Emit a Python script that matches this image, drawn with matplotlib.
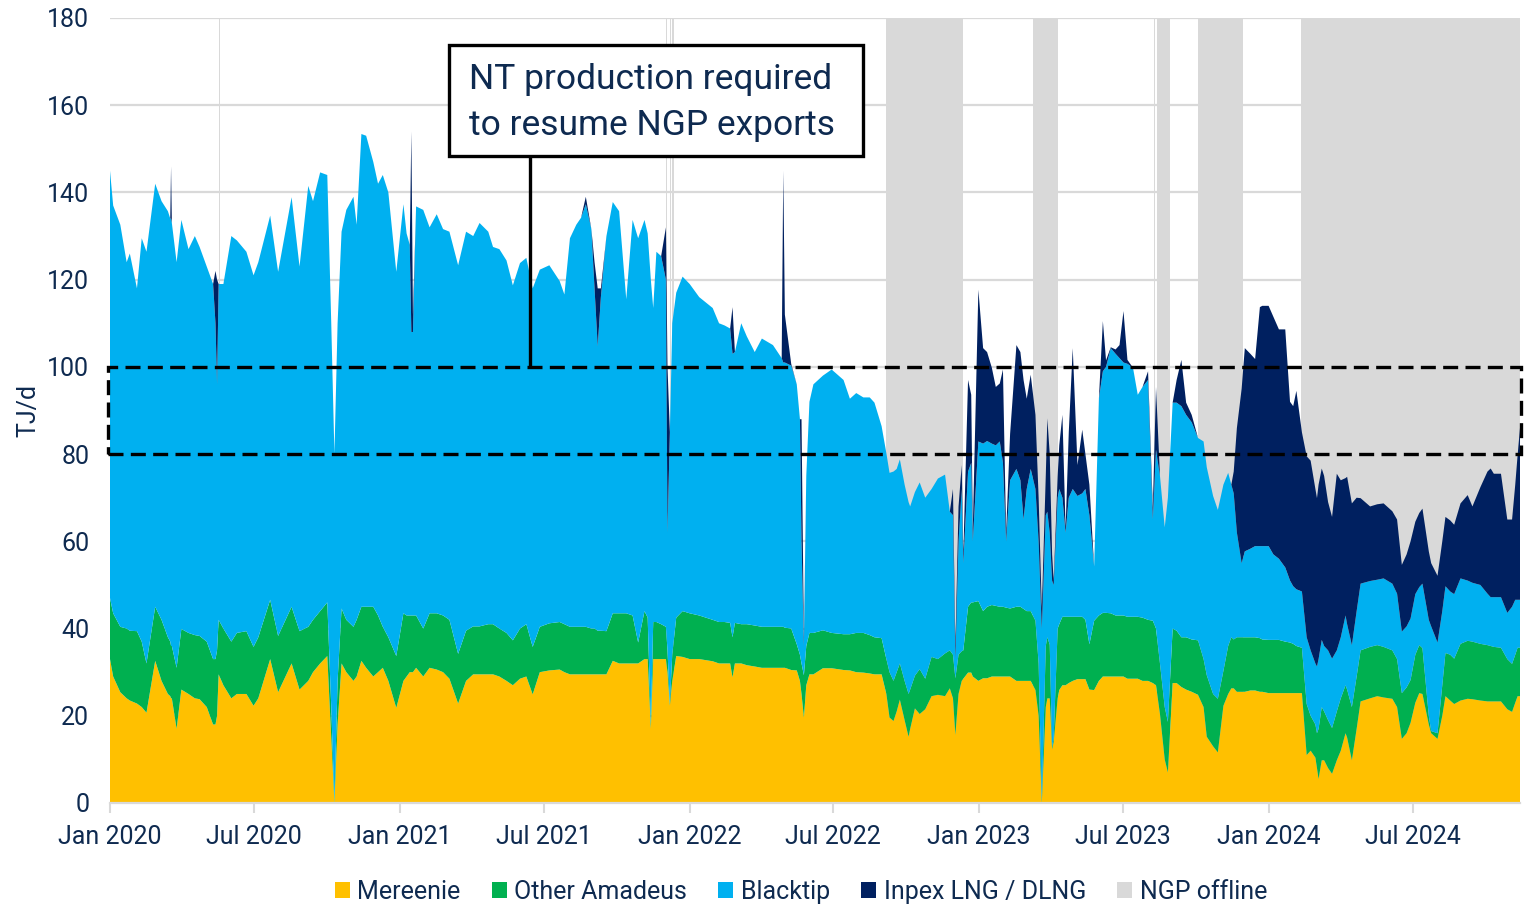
import matplotlib
matplotlib.use("Agg")
import matplotlib.pyplot as plt
import matplotlib.dates as mdates
from matplotlib.patches import Patch, Rectangle
import pandas as pd

# ---------------- data (TJ/d) ----------------
days_since_2020 = [
    0, 4, 13, 21, 25, 34, 40, 46, 57, 65, 73, 76, 77, 78, 84, 90, 99, 107, 113, 122,
    130, 133, 135, 137, 143, 153, 160, 172, 181, 187, 202, 212, 229, 239, 250, 256, 265, 274, 279, 283,
    287, 292, 298, 307, 311, 317, 323, 332, 338, 344, 351, 361, 370, 374, 378, 380, 382, 386,
    395, 403, 412, 420, 428, 439, 449, 458, 466, 477, 483, 491, 500, 508, 517, 525, 533, 542, 554, 567,
    573, 580, 588, 594, 600, 607, 611, 615, 619, 626, 634, 642, 651, 659, 666, 674, 678, 682, 685, 689,
    695, 701, 703, 706, 709, 714, 722, 731, 743, 760, 768,
    775, 782, 785, 788, 796, 803, 813, 822, 836, 847, 849, 851, 859, 866, 870, 872, 875, 878, 882, 887,
    899, 910, 925, 933, 941, 950, 958, 964, 973, 979, 983, 988, 992, 996, 1002, 1007, 1009, 1015, 1021, 1028,
    1036, 1044, 1053, 1059, 1063, 1066, 1070, 1074, 1076, 1082, 1086, 1088, 1095, 1101, 1106, 1112, 1117, 1122,
    1126, 1130, 1135, 1143,
    1148, 1152, 1156, 1161, 1167, 1171, 1175, 1180, 1182, 1185, 1188, 1190, 1195, 1197, 1201, 1205, 1209, 1214,
    1220, 1226, 1230, 1235, 1241, 1247, 1252, 1256, 1262, 1268, 1273, 1278, 1283, 1290, 1296, 1302, 1309, 1315,
    1319, 1324, 1330, 1334, 1340, 1345, 1351, 1357, 1364, 1372, 1379, 1383, 1391, 1397, 1404, 1410, 1414, 1417,
    1421, 1427,
    1431, 1438, 1444, 1450, 1453, 1461, 1467, 1474, 1482, 1488, 1492, 1496, 1503, 1509, 1514, 1520, 1522, 1524,
    1528, 1531, 1536, 1541, 1547, 1552, 1558, 1560, 1566, 1572, 1577, 1589, 1598, 1606, 1617, 1623, 1629, 1635,
    1640, 1646, 1651, 1655, 1663, 1666, 1674, 1680, 1684, 1690, 1695, 1703, 1712, 1718, 1728, 1737, 1741, 1745,
    1754, 1762, 1768, 1772, 1775, 1778,
]

mereenie = [
    33, 29, 25.4, 24, 23.5, 22.8, 22, 20.7, 32.6, 28, 25, 24.5, 24, 24, 17, 26, 25, 24, 23.8, 22,
    18, 18, 20, 29.5, 27, 24, 25, 25, 22.3, 24, 33, 25.4, 32, 26, 28, 30, 32, 33.7, 15, 0,
    18, 32, 30, 28, 29, 32.6, 31, 29, 30, 31, 28, 21.8, 28, 29, 30, 30, 30, 31,
    29, 31, 30.6, 30, 28.5, 22.8, 28, 29.5, 29.5, 29.5, 29.5, 29, 28, 27, 28.5, 29, 24.9, 30, 30.4, 30.6,
    30, 29.5, 29.5, 29.5, 29.5, 29.5, 29.5, 29.5, 29.5, 29.5, 32.6, 32, 32, 32, 32, 33, 33, 17, 33, 33,
    33, 33, 30, 22.3, 28, 33.7, 33.5, 33, 33, 32.5, 32,
    32, 32, 28.8, 32, 32, 31.6, 31.3, 31, 31, 31, 31, 31, 30.5, 30.4, 28, 25, 19.6, 27, 29.5, 29.5,
    30.9, 30.9, 30.5, 30.4, 30, 29.9, 29.7, 29.5, 29.5, 25, 19.6, 18.8, 21, 23.7, 19, 15.2, 17, 21.7, 20.4, 21.5,
    24.5, 24.8, 24.5, 26.3, 24, 15.6, 25, 28, 28.5, 29.9, 29.9, 29, 28, 28.6, 28.6, 29, 29, 29,
    29, 29, 29, 28,
    28, 28, 28, 28, 25.9, 20, 0, 22, 24, 24, 12.3, 14, 24, 25.9, 27, 27, 27.5, 28,
    28.4, 28.4, 28.4, 26, 25.9, 28, 29, 29, 29, 29, 29, 29, 28.5, 28.5, 28.5, 28, 28, 27.5,
    27, 20.4, 10, 7, 27.5, 27.5, 26.6, 26, 25.5, 24.8, 22, 15.2, 13, 11.6, 22.3, 25, 26.3, 26.3,
    25.5, 25.5,
    25.5, 25.8, 25.8, 25.5, 25.5, 25.2, 25.2, 25.2, 25.2, 25.2, 25.2, 25.2, 25.2, 11, 12, 10.4, 8, 5.5,
    9.8, 9.8, 8, 6.7, 9.8, 12, 16, 15, 9.8, 17, 23.3, 24, 24.5, 24.2, 23.9, 22, 14.7, 16,
    18.4, 23, 25.2, 25, 18, 16, 14.7, 20, 24.5, 23.5, 22.7, 23.5, 23.9, 23.8, 23.5, 23.3, 23.3, 23.3,
    23.3, 21.5, 20.9, 23, 24.5, 24.5,
]

other_amadeus = [
    14, 14.5, 15, 16, 16, 16.6, 15, 11.3, 12.4, 14, 13, 12.5, 12, 12, 14, 13.9, 14, 14.5, 14.5, 15,
    15, 15, 15, 12.5, 13, 13, 14, 14.4, 13.5, 14, 13.6, 12.9, 13, 13.4, 12.4, 12, 12, 12.3, 7, 0.5,
    10, 12.6, 12, 12.4, 13, 12.4, 14, 16, 13, 9.4, 10, 11.9, 15.5, 14, 13, 13, 13, 12,
    11, 12.5, 12.9, 13, 13.5, 11.4, 11.5, 11, 11, 11.5, 11.5, 11, 11, 10.3, 11.5, 12, 10.9, 10.4, 10.8, 10.9,
    11, 10.9, 10.9, 10.9, 10.9, 10.5, 10.5, 10, 10, 9.9, 10.9, 11.5, 11.5, 11, 4.8, 11, 9.5, 1, 8.5, 8.5,
    8, 7.4, 5, 0.5, 6, 8.8, 10.5, 10.5, 10, 9.5, 9.5,
    9.5, 9.3, 9.2, 9.3, 9, 9.4, 9.4, 9.4, 9.4, 9.4, 9.4, 9.2, 9.5, 6, 6, 7, 9.7, 9, 9.5, 9.5,
    8.7, 8.1, 8.2, 8.3, 9, 9.1, 8.8, 8.5, 8.3, 8, 10.4, 9.2, 9, 8.3, 9, 9.8, 9, 7.5, 10.3, 7,
    9, 8.2, 9.8, 8.7, 10, 13, 9, 6.8, 6.5, 15.1, 16.1, 17, 18.3, 15.4, 16.4, 16.4, 16.2, 16,
    16, 15.8, 15.6, 17,
    17, 16.5, 16, 16, 15.9, 12, 0.5, 14, 14, 12.3, 0.5, 1, 16, 15.1, 15.7, 15.7, 15.2, 14.7,
    14.3, 14.3, 13.6, 10.4, 15.9, 15, 14.6, 14.6, 14.5, 14, 14, 14, 14.2, 14.2, 14.2, 14.5, 14, 14.3,
    13, 11.6, 12, 11.6, 12.5, 12, 11.4, 12, 12, 12.5, 11, 14.1, 12, 12.3, 8, 11, 11.7, 11.2,
    12.5, 12.5,
    12.5, 12.2, 12.2, 12.3, 12, 12.2, 12.2, 12.2, 11.8, 11.6, 11.3, 10.8, 10.4, 11.7, 8, 7.6, 8, 11.5,
    12.2, 11.2, 11, 10.5, 11.2, 12, 11, 11, 12.2, 12, 11.7, 11.8, 11.7, 11.6, 11.1, 11, 10.5, 10.5,
    9.8, 11, 11, 10.5, 2, 0.5, 1.3, 7, 9.9, 10.5, 10.4, 13, 13.3, 13.2, 13, 12.9, 12.7, 12.5,
    12.3, 11.5, 11, 11, 11.1, 11.1,
]

blacktip = [
    98, 93.5, 92.2, 84, 86.5, 78.6, 92.5, 94.4, 97, 96, 97.7, 97, 98, 97, 93, 93.8, 88, 91.5, 89.2, 86,
    86, 77, 61, 77, 79, 93, 90, 87, 85.2, 86, 88.1, 83.5, 93.9, 83.6, 101.1, 96, 100.6, 98, 88, 79.5,
    82, 86.4, 94, 98.6, 90.6, 108.4, 108, 102, 99, 103.6, 102, 88.1, 93.8, 87.6, 85, 65, 65, 93.8,
    96, 88.5, 91.5, 88.6, 89, 89.1, 91.5, 89.5, 92.5, 90, 86.5, 87, 85.4, 81.4, 83.8, 84, 82.2, 81.9, 82.1, 78.2,
    75.6, 89.1, 92.2, 93.8, 96.9, 91.6, 78, 65.2, 76.5, 90.6, 94.3, 92.2, 72, 90.7, 92.7, 89.7, 88.1, 102, 72, 84.9,
    84.4, 79.6, 27, 62.2, 76, 74.5, 76.7, 75.5, 73, 71.5, 68.5,
    68, 67.5, 65, 62.1, 69, 66, 62.7, 66.1, 64.6, 61.6, 60.6, 60.8, 60.3, 59.6, 54, 28, 6.7, 39, 53, 57,
    58.4, 60.4, 58.3, 54, 55, 54, 54.5, 53.8, 48.6, 47.2, 45.7, 48, 46.6, 46.8, 45, 44, 42, 42.1, 42.8, 41.5,
    38.5, 41.4, 41, 31.8, 32, 4.4, 26, 37.2, 20, 31, 32, 14, 36.6, 38.4, 38, 37, 36.8, 37.9,
    33, 15.2, 29.4, 31.6,
    29, 20.5, 28, 32.6, 30.2, 28, 39.5, 30, 28.8, 25.7, 38.2, 35, 30, 31, 27.3, 19.3, 27.3, 29.3,
    27.7, 28.3, 30, 29.6, 12.4, 49.7, 55.4, 56.4, 60.8, 60, 59, 58, 58, 57.1, 50.9, 52.9, 55, 23.2,
    41, 43, 41.2, 51.4, 51.8, 52.3, 53, 51, 49.8, 46.4, 49.9, 47.7, 45.4, 43.3, 42.7, 39.7, 35, 33.5,
    24, 17,
    19.7, 20.3, 20.9, 21.1, 21.4, 21.5, 19.6, 18.6, 17, 14.2, 13.2, 13, 12.9, 15.3, 15, 14, 15.3, 16,
    15.4, 15, 16, 15.9, 14, 14, 16, 15, 14.2, 15, 15.3, 15.1, 15, 15.7, 15.3, 15, 14.1, 14,
    14.1, 13.9, 13.3, 14.8, 22, 24, 20.8, 17, 15.3, 14.5, 14.8, 15, 13.8, 13.5, 13.5, 11.8, 11.2, 11.4,
    11.6, 10.6, 13.1, 12.6, 11, 11,
]

inpex_dlng = [
    0, 0, 0, 0, 0, 0, 0, 0, 0, 0, 0, 0, 12, 0, 0, 0, 0, 0, 0, 0,
    0, 12, 24, 0, 0, 0, 0, 0, 0, 0, 0, 0, 0, 0, 0, 0, 0, 0, 0, 0,
    0, 0, 0, 0, 0, 0, 0, 0, 0, 0, 0, 0, 0, 0, 0, 46, 4, 0,
    0, 0, 0, 0, 0, 0, 0, 0, 0, 0, 0, 0, 0, 0, 0, 0, 0, 0, 0, 0,
    0, 0, 0, 0, 1.7, 0, 6, 13.3, 2, 0, 0, 0, 0, 0, 0, 0, 0, 0, 0, 0,
    0, 12, 38, 0, 0, 0, 0, 0, 0, 0, 0,
    0, 0, 10.7, 0, 0, 0, 0, 0, 0, 0, 44, 11, 0.4, 0, 0, 28, 2, 0, 0, 0,
    0, 0, 0, 0, 0, 0, 0, 0, 0, 0, 0, 0, 0, 0, 0, 0, 0, 0, 0, 0,
    0, 0, 0, 0, 6, 3, 8, 5.5, 2, 21, 15.6, 3, 34.8, 21.9, 20.4, 17.4, 13.4, 13.3,
    21.4, 2, 10.6, 28.4,
    29.4, 32, 20.7, 21.6, 17, 10, 4.5, 9, 21.4, 18, 6, 1, 5, 10, 19, 1, 15, 32.3,
    7.1, 14.6, 8, 7, 0, 0, 11.5, 1.5, 0.2, 1, 3, 11.8, 0.9, 0, 0, 0, 2, 2.7,
    14.4, 0, 0, 0, 0, 5.2, 10.6, 2.8, 1.7, 0, 0, 0, 0, 0, 0, 0, 0, 5,
    24, 40,
    46.6, 44.7, 42.9, 54.8, 55.1, 55.1, 54.5, 52.6, 54.6, 41, 41.3, 45.5, 36.5, 41.5, 43.5, 40, 38.6, 40,
    39.3, 39, 34, 32.5, 40.5, 36, 31.5, 33.8, 32.5, 26, 19.6, 17.1, 17.3, 17.2, 16.6, 17, 15.3, 16.5,
    17.7, 16.6, 17, 17.2, 15.7, 14.5, 15.3, 16, 15.9, 16.3, 15.9, 17.2, 19.6, 17.5, 22.4, 28, 29.5, 28.3,
    28.3, 21.4, 20, 26.4, 33.2, 39.4,
]

# NGP offline periods (days since 2020-01-01)
ngp_offline_start = [137, 701, 706, 709, 979, 1164, 1316, 1320, 1372, 1502]
ngp_offline_end = [139, 703, 708, 711, 1075, 1196, 1318, 1337, 1429, 1778]

series_labels = ["Mereenie", "Other Amadeus", "Blacktip", "Inpex LNG / DLNG", "NGP offline"]
series_colors = ["#FFC000", "#00B050", "#00B0F0", "#002060", "#D9D9D9"]

annotation_text = ["NT production required", "to resume NGP exports"]
target_low, target_high = 80, 100

# ---------------- figure ----------------
plt.rcParams["font.family"] = ["Roboto", "DejaVu Sans"]
TXT = "#0e2a50"
GRID = "#D9D9D9"

base = pd.Timestamp("2020-01-01")
dates = base + pd.to_timedelta(days_since_2020, unit="D")

fig = plt.figure(figsize=(15.37, 9.08), dpi=100)
ax = fig.add_axes([110 / 1537, 105 / 908, 1410 / 1537, 785 / 908])

for s, e in zip(ngp_offline_start, ngp_offline_end):
    ax.axvspan(base + pd.Timedelta(days=s), base + pd.Timedelta(days=e),
               color=series_colors[4], lw=0, zorder=1)

ax.stackplot(dates, mereenie, other_amadeus, blacktip, inpex_dlng,
             colors=series_colors[:4], linewidth=0, zorder=2)

ax.set_xlim(base, base + pd.Timedelta(days=days_since_2020[-1]))
ax.set_ylim(0, 180)
ax.set_yticks(range(0, 181, 20))
ax.set_axisbelow(True)
ax.yaxis.grid(True, color=GRID, lw=1.6, zorder=0)
ax.xaxis.grid(False)

ax.xaxis.set_major_locator(mdates.MonthLocator(bymonth=[1, 7]))
ax.xaxis.set_major_formatter(mdates.DateFormatter("%b %Y"))

for side in ["top", "right", "left"]:
    ax.spines[side].set_visible(False)
ax.spines["bottom"].set_color(GRID)
ax.spines["bottom"].set_linewidth(1.6)

ax.tick_params(axis="x", colors=GRID, labelcolor=TXT, length=7, width=1.5,
               labelsize=18, pad=9)
ax.tick_params(axis="y", length=0, labelcolor=TXT, labelsize=18, pad=15)

fig.text(28 / 1537, 1 - 410 / 908, "TJ/d", rotation=90, ha="center", va="center",
         fontsize=18, color=TXT)

# dashed target band 80-100 TJ/d
x0 = mdates.date2num(base) - 2.5
x1 = mdates.date2num(base + pd.Timedelta(days=days_since_2020[-1])) + 1.5
band = Rectangle((x0, target_low), x1 - x0, target_high - target_low, fill=False,
                 edgecolor="black", lw=2.4, ls=(0, (4.5, 2.2)), zorder=5, clip_on=False)
ax.add_patch(band)

# annotation box
bx0 = mdates.date2num(base + pd.Timedelta(days=428))
bx1 = mdates.date2num(base + pd.Timedelta(days=950))
box = Rectangle((bx0, 148.4), bx1 - bx0, 173.8 - 148.4, facecolor="white",
                edgecolor="black", lw=2.4, zorder=6, clip_on=False)
ax.add_patch(box)
lx = base + pd.Timedelta(days=529)
ax.plot([lx, lx], [target_high, 148.4], color="black", lw=2.4, zorder=5,
        solid_capstyle="butt")
tx = base + pd.Timedelta(days=453)
ax.text(tx, 166.0, annotation_text[0], fontsize=25.5, color=TXT, va="center", ha="left", zorder=7)
ax.text(tx, 155.4, annotation_text[1], fontsize=25.5, color=TXT, va="center", ha="left", zorder=7)

handles = [Patch(facecolor=c, edgecolor="none") for c in series_colors]
fig.legend(handles, series_labels, loc="center", bbox_to_anchor=(801 / 1537, 1 - 892 / 908),
           ncol=5, frameon=False, fontsize=18, handlelength=0.6, handleheight=0.6,
           handletextpad=0.3, columnspacing=1.25, labelcolor=TXT)

fig.savefig("out.png", dpi=100)
